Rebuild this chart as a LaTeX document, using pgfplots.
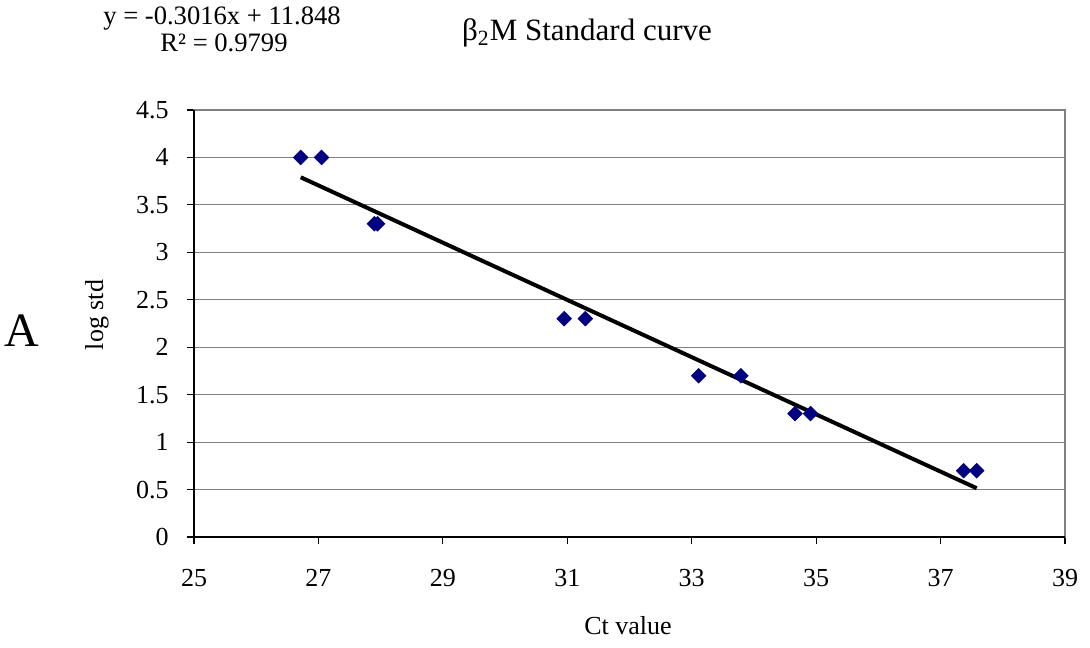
\documentclass[border=0pt]{standalone}
\usepackage{pgfplots}
\pgfplotsset{compat=1.18}
\usepackage{fontspec}
\setmainfont{Liberation Serif}
\definecolor{navymark}{RGB}{0,0,128}
\definecolor{gridgray}{RGB}{128,128,128}

\begin{document}
\begin{tikzpicture}
\path[use as bounding box] (0,0) rectangle (545pt,323.5pt);
\begin{axis}[
  at={(97pt,55pt)}, anchor=south west,
  scale only axis,
  width=435.5pt, height=213.5pt,
  xmin=25, xmax=39, ymin=0, ymax=4.5,
  xtick={25,27,...,39},
  ytick={0,0.5,...,4.5},
  ymajorgrids=true,
  grid style={gridgray, line width=0.6pt},
  axis line style={gridgray, line width=0.8pt},
  tick style={black, line width=0.6pt},
  tick align=outside,
  major tick length=3.5pt,
  xtick pos=bottom, ytick pos=left,
  ticklabel style={font=\fontsize{13}{15}\selectfont, inner sep=0pt},
  /pgf/number format/assume math mode=true,
  yticklabel style={/pgf/number format/fixed, anchor=east, xshift=-9pt},
  xticklabel style={anchor=center, yshift=-17pt},
  clip=false,
]
\draw[black, line width=0.8pt] (rel axis cs:0,1) -- (rel axis cs:0,0) -- (rel axis cs:1,0);
\addplot[only marks, mark=square*, mark size=2.55pt, mark options={rotate=45}, color=navymark] coordinates {
  (26.715,4.000) (27.05,4.000)
  (27.90,3.301) (27.95,3.301)
  (30.95,2.301) (31.29,2.301)
  (33.11,1.699) (33.79,1.699)
  (34.66,1.301) (34.91,1.301)
  (37.37,0.699) (37.58,0.699)
};
\addplot[black, line width=2pt, mark=none] coordinates {
  (26.715,3.791) (37.58,0.514)
};
\end{axis}
\node[font=\fontsize{13.3}{15}\selectfont] at (111pt,314pt) {y = -0.3016x + 11.848};
\node[font=\fontsize{13.3}{15}\selectfont] at (112pt,302pt) {R² = 0.9799};
\node[font=\fontsize{15.5}{18}\selectfont] at (293.5pt,307pt) {β\textsubscript{2}M Standard curve};
\node[font=\fontsize{24}{28}\selectfont] at (11pt,158pt) {A};
\node[font=\fontsize{13}{15}\selectfont, rotate=90] at (48.5pt,166pt) {log std};
\node[font=\fontsize{13}{15}\selectfont] at (314pt,10.5pt) {Ct value};
\end{tikzpicture}
\end{document}
